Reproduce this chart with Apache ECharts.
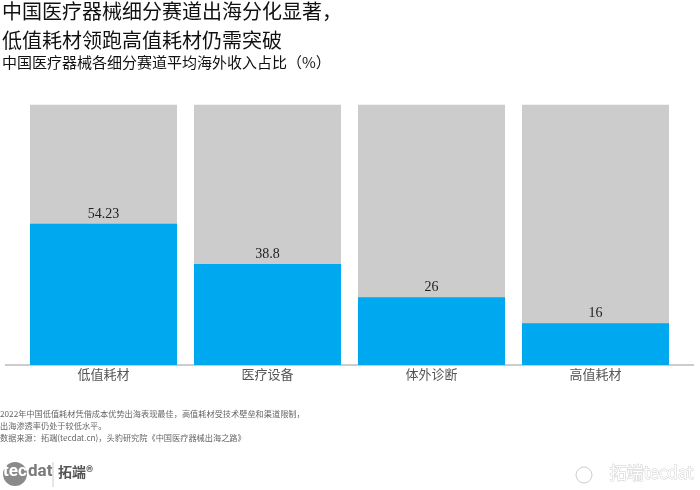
<!DOCTYPE html>
<html>
<head>
<meta charset="utf-8">
<script src="https://cdn.jsdelivr.net/npm/echarts@6/dist/echarts.min.js"></script>
<style>html,body{margin:0;padding:0;background:#fff}#c{width:700px;height:490px}</style>
</head>
<body>
<div id="c"></div>
<script>
var categories = ['低值耗材', '医疗设备', '体外诊断', '高值耗材'];
var values = [54.23, 38.8, 26, 16];
var titleLines = ['中国医疗器械细分赛道出海分化显著，', '低值耗材领跑高值耗材仍需突破'];
var subtitle = '中国医疗器械各细分赛道平均海外收入占比（%）';
var notes = ['2022年中国低值耗材凭借成本优势出海表现最佳，高值耗材受技术壁垒和渠道限制，', '出海渗透率仍处于较低水平。', '数据来源：拓端(tecdat.cn)，头豹研究院《中国医疗器械出海之路》'];

var cjk = '"Noto Sans CJK SC", sans-serif';
var chart = echarts.init(document.getElementById('c'));
chart.setOption({
  backgroundColor: '#fff',
  animation: false,
  title: [
    {text: titleLines[0], left: 2, top: 1, padding: 0, textStyle: {fontFamily: cjk, fontSize: 20, fontWeight: 'normal', color: '#111', lineHeight: 20}},
    {text: titleLines[1], left: 2, top: 30, padding: 0, textStyle: {fontFamily: cjk, fontSize: 20, fontWeight: 'normal', color: '#111', lineHeight: 20}},
    {text: subtitle, left: 2, top: 54.5, padding: 0, textStyle: {fontFamily: cjk, fontSize: 15, fontWeight: 'normal', color: '#111', lineHeight: 16}}
  ],
  grid: {left: 21.5, right: 22.5, top: 104.7, bottom: 125},
  xAxis: {
    type: 'category', data: categories,
    axisLine: {show: false}, axisTick: {show: false},
    axisLabel: {fontFamily: cjk, fontSize: 13, color: '#555', margin: 3}
  },
  yAxis: {type: 'value', min: 0, max: 100, show: false},
  series: [{
    type: 'bar', data: values, barWidth: 147,
    itemStyle: {color: '#00a8f0'},
    showBackground: true, backgroundStyle: {color: '#cccccc'},
    label: {show: true, position: 'top', distance: 3, fontFamily: '"Liberation Serif", serif', fontSize: 14, color: '#222'}
  }],
  graphic: [
    {type: 'line', shape: {x1: 5, y1: 365, x2: 694, y2: 365}, style: {stroke: '#bbbbbb', lineWidth: 1.5}},
    {type: 'text', left: 0, top: 408, style: {text: notes.join('\n'), fontFamily: cjk, fontSize: 8.2, lineHeight: 12, fill: '#666'}},
    {type: 'circle', shape: {cx: 15, cy: 474, r: 12}, style: {fill: '#8a8a8a'}},
    {type: 'text', left: 3, top: 463, style: {text: 'tec', fontFamily: 'Roboto, sans-serif', fontSize: 17, fill: '#fff', fontWeight: 'bold'}},
    {type: 'text', left: 28, top: 463, style: {text: 'dat', fontFamily: 'Roboto, sans-serif', fontSize: 17, fill: '#7a7a7a', fontWeight: 'bold'}},
    {type: 'line', shape: {x1: 53, y1: 462, x2: 53, y2: 487}, style: {stroke: '#ccc', lineWidth: 1}},
    {type: 'text', left: 58, top: 465, style: {text: '拓端®', fontFamily: cjk, fontSize: 14, fill: '#555', fontWeight: 'bold'}},
    {type: 'text', right: 6, top: 464, style: {text: '拓端tecdat', fontFamily: cjk, fontSize: 17, fill: '#fff', stroke: '#cfcfcf', lineWidth: 1}},
    {type: 'circle', shape: {cx: 584, cy: 475, r: 8}, style: {fill: 'none', stroke: '#cfcfcf', lineWidth: 1}}
  ]
});
</script>
</body>
</html>
